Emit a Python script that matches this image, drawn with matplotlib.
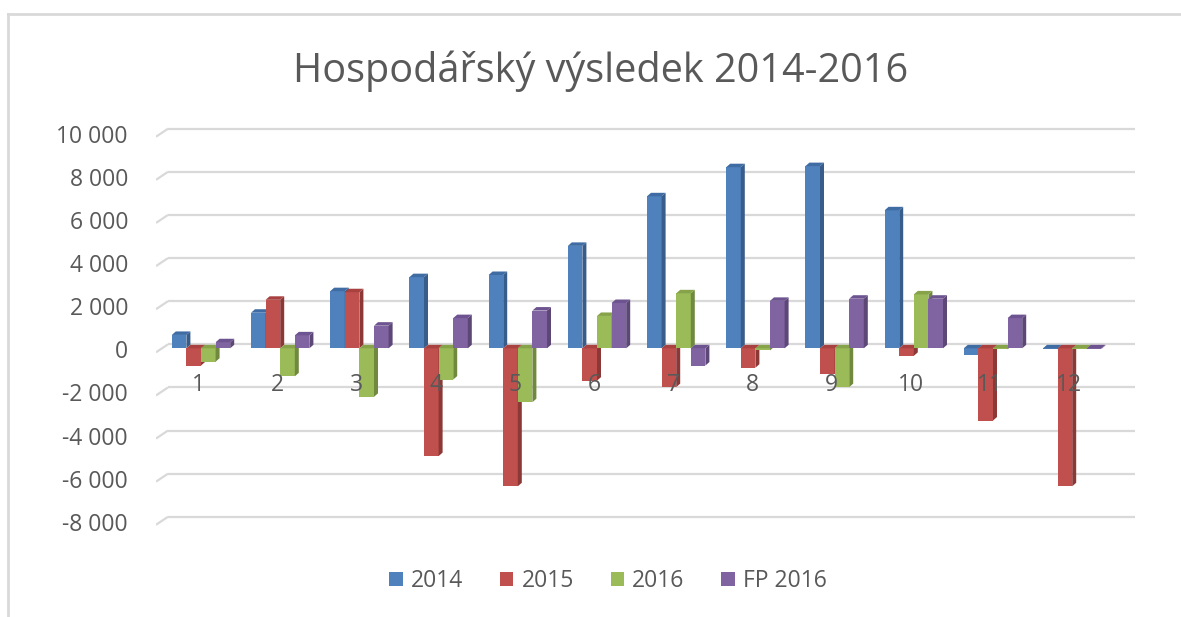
import matplotlib
matplotlib.use("Agg")
import matplotlib.pyplot as plt
from matplotlib.patches import Polygon, Patch
from matplotlib.lines import Line2D
import matplotlib.transforms as mtrans

# ---------------- data ----------------
categories = ["1", "2", "3", "4", "5", "6", "7", "8", "9", "10", "11", "12"]
series_names = ["2014", "2015", "2016", "FP 2016"]
v2014 = [620, 1650, 2650, 3300, 3400, 4750, 7050, 8400, 8450, 6400, -300, -50]
v2015 = [-800, 2250, 2600, -5000, -6400, -1500, -1800, -900, -1200, -350, -3350, -6400]
v2016 = [-620, -1300, -2250, -1450, -2500, 1500, 2550, -100, -1800, 2500, -50, -50]
vfp2016 = [280, 600, 1050, 1400, 1750, 2100, -800, 2200, 2300, 2300, 1400, -30]
yticks = [-8000, -6000, -4000, -2000, 0, 2000, 4000, 6000, 8000, 10000]
title = "Hospodářský výsledek 2014-2016"

series = [v2014, v2015, v2016, vfp2016]
front_colors = ["#4F81BD", "#C0504D", "#9BBB59", "#8064A2"]
side_colors = ["#385D8A", "#8C3836", "#71893F", "#5C4776"]
top_colors = ["#3F6CA3", "#A8413F", "#86A34A", "#6D5490"]

# ---------------- layout ----------------
W, H = 1181, 617
DPI = 100
fig = plt.figure(figsize=(W / DPI, H / DPI), dpi=DPI)
fig.patch.set_facecolor("white")

FONT = ["Open Sans", "DejaVu Sans"]
TXT = "#595959"
GRID = "#D9D9D9"

ax_l, ax_r, ax_t, ax_b = 156, 1135, 120, 540   # pixels
ax = fig.add_axes([ax_l / W, 1 - ax_b / H, (ax_r - ax_l) / W, (ax_b - ax_t) / H])
ax.set_axis_off()

zero_px = 348.3          # pixel row of the bar plane zero
px_per_unit = 21.56 / 1000.0
ax.set_ylim(-(ax_b - zero_px) / px_per_unit, (zero_px - ax_t) / px_per_unit)
c1_px, step_px = 201.0, 79.2
ax.set_xlim(1 + (ax_l - c1_px) / step_px, 1 + (ax_r - c1_px) / step_px)

dxu = 1.0 / step_px      # one pixel in x data units
dyu = 1.0 / px_per_unit  # one pixel in y data units

# ---------------- grid (back wall with slanted connectors) ----------------
ytick_tr = (mtrans.blended_transform_factory(ax.transAxes, ax.transData)
            + mtrans.ScaledTranslation(-28 / DPI, 0, fig.dpi_scale_trans))
xl, xr = ax.get_xlim()
for v in yticks:
    yb = v + 4 * dyu
    yf = v - 4 * dyu
    ax.plot([xl, xl + 12 * dxu], [yf, yb], color=GRID, lw=1.6, zorder=1,
            solid_capstyle="butt")
    ax.plot([xl + 12 * dxu, xr], [yb, yb], color=GRID, lw=1.6,
            zorder=1, solid_capstyle="butt")
    ax.text(0, yf, f"{v:,}".replace(",", " "), transform=ytick_tr,
            ha="right", va="center", fontsize=16.5, color=TXT, family=FONT,
            clip_on=False)

# ---------------- 3D-looking bars ----------------
bw = 14.6 * dxu
ddx, ddy = 4 * dxu, 3.5 * dyu
n = len(series)
z = 3
for si, vals in enumerate(series):
    for i, v in enumerate(vals):
        x0 = (i + 1) + (si - n / 2) * bw
        x1 = x0 + bw
        ax.bar(x0, v, width=bw, align="edge", color=front_colors[si],
               edgecolor="none", zorder=z)
        ax.add_patch(Polygon([(x1, 0), (x1, v), (x1 + ddx, v + ddy), (x1 + ddx, ddy)],
                             closed=True, facecolor=side_colors[si],
                             edgecolor="none", zorder=z))
        yt = max(v, 0)
        ax.add_patch(Polygon([(x0, yt), (x1, yt), (x1 + ddx, yt + ddy), (x0 + ddx, yt + ddy)],
                             closed=True, facecolor=top_colors[si],
                             edgecolor="none", zorder=z))
    z += 1

# ---------------- category labels (drawn over the bars) ----------------
lab_tr = mtrans.blended_transform_factory(ax.transData, ax.transAxes)
for i, c in enumerate(categories):
    ax.text(i + 1 - 3 * dxu, (ax_b - 385) / (ax_b - ax_t), c, transform=lab_tr,
            ha="center", va="center", fontsize=16.5, color=TXT, family=FONT,
            zorder=20)

# ---------------- title ----------------
fig.text(601 / W, 1 - 82 / H, title, ha="center", va="baseline",
         fontsize=28.5, color=TXT, family=FONT)

# ---------------- legend ----------------
handles = [Patch(facecolor=c, edgecolor="none") for c in front_colors]
fig.legend(handles, series_names, loc="center", bbox_to_anchor=(608 / W, 1 - 581 / H),
           ncol=4, frameon=False, prop={"family": FONT, "size": 16.5},
           labelcolor=TXT, handlelength=0.6, handleheight=0.6, handletextpad=0.35,
           columnspacing=1.6)

# ---------------- outer border (top + left) ----------------
fig.add_artist(Line2D([8 / W, 8 / W], [0, 1 - 14 / H], color=GRID, lw=2,
                      transform=fig.transFigure))
fig.add_artist(Line2D([8 / W, 1], [1 - 14 / H, 1 - 14 / H], color=GRID, lw=2,
                      transform=fig.transFigure))

fig.savefig("out.png", dpi=DPI, facecolor="white")
